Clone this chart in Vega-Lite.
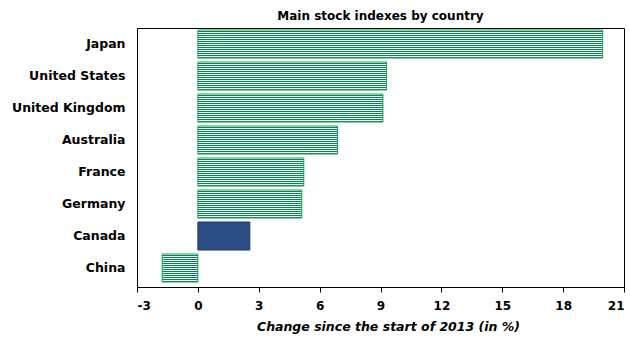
{
  "$schema": "https://vega.github.io/schema/vega-lite/v6.json",
  "width": 487,
  "height": 259,
  "autosize": {"type": "none"},
  "padding": {"left": 137, "top": 28, "right": 6, "bottom": 50},
  "background": "white",
  "config": {
    "font": "DejaVu Sans",
    "view": {"stroke": "black", "strokeWidth": 1}
  },
  "title": {
    "text": "Main stock indexes by country",
    "font": "DejaVu Sans",
    "fontSize": 12,
    "fontWeight": "bold",
    "color": "black",
    "anchor": "middle",
    "offset": 5
  },
  "data": {
    "values": [
      {"country": "Japan", "change": 19.95},
      {"country": "United States", "change": 9.3},
      {"country": "United Kingdom", "change": 9.12},
      {"country": "Australia", "change": 6.88},
      {"country": "France", "change": 5.22},
      {"country": "Germany", "change": 5.12},
      {"country": "Canada", "change": 2.56},
      {"country": "China", "change": -1.76}
    ]
  },
  "encoding": {
    "y": {
      "field": "country",
      "type": "nominal",
      "sort": null,
      "scale": {"paddingInner": 0.125, "paddingOuter": 0.109375, "align": 0.2857142857, "round": false},
      "axis": {
        "title": null,
        "domain": false,
        "ticks": false,
        "labelPadding": 12,
        "labelFontSize": 12.5,
        "labelFontWeight": "bold",
        "labelColor": "black"
      }
    }
  },
  "layer": [
    {
      "mark": {"type": "bar", "strokeWidth": 1, "cornerRadius": 0},
      "encoding": {
        "x": {
          "field": "change",
          "type": "quantitative",
          "scale": {"domain": [-3, 21], "nice": false, "zero": false},
          "axis": {
            "values": [-3, 0, 3, 6, 9, 12, 15, 18, 21],
            "labelExpr": "datum.value + ''",
            "grid": false,
            "domain": true,
            "domainColor": "black",
            "tickColor": "black",
            "tickSize": 5,
            "labelFontSize": 12,
            "labelFontWeight": "bold",
            "labelColor": "black",
            "labelPadding": 8,
            "title": "Change since the start of 2013 (in %)",
            "titleFontSize": 12.5,
            "titleFontWeight": "bold",
            "titleFontStyle": "italic",
            "titleColor": "black",
            "titlePadding": 9,
            "titleX": 251,
            "titleAlign": "center"
          }
        },
        "fill": {
          "condition": {"test": "datum.country === 'Canada'", "value": "#2d4d85"},
          "value": {
            "gradient": "linear",
            "x1": 0, "y1": 0, "x2": 0, "y2": 1,
            "stops": [
              {"offset": 0, "color": "#f2f9f5"},
              {"offset": 0.0357, "color": "#f2f9f5"},
              {"offset": 0.0357, "color": "#008b4c"},
              {"offset": 0.0714, "color": "#008b4c"},
              {"offset": 0.0714, "color": "#f2f9f5"},
              {"offset": 0.1071, "color": "#f2f9f5"},
              {"offset": 0.1071, "color": "#008b4c"},
              {"offset": 0.1429, "color": "#008b4c"},
              {"offset": 0.1429, "color": "#f2f9f5"},
              {"offset": 0.1786, "color": "#f2f9f5"},
              {"offset": 0.1786, "color": "#008b4c"},
              {"offset": 0.2143, "color": "#008b4c"},
              {"offset": 0.2143, "color": "#f2f9f5"},
              {"offset": 0.25, "color": "#f2f9f5"},
              {"offset": 0.25, "color": "#008b4c"},
              {"offset": 0.2857, "color": "#008b4c"},
              {"offset": 0.2857, "color": "#f2f9f5"},
              {"offset": 0.3214, "color": "#f2f9f5"},
              {"offset": 0.3214, "color": "#008b4c"},
              {"offset": 0.3571, "color": "#008b4c"},
              {"offset": 0.3571, "color": "#f2f9f5"},
              {"offset": 0.3929, "color": "#f2f9f5"},
              {"offset": 0.3929, "color": "#008b4c"},
              {"offset": 0.4286, "color": "#008b4c"},
              {"offset": 0.4286, "color": "#f2f9f5"},
              {"offset": 0.4643, "color": "#f2f9f5"},
              {"offset": 0.4643, "color": "#008b4c"},
              {"offset": 0.5, "color": "#008b4c"},
              {"offset": 0.5, "color": "#f2f9f5"},
              {"offset": 0.5357, "color": "#f2f9f5"},
              {"offset": 0.5357, "color": "#008b4c"},
              {"offset": 0.5714, "color": "#008b4c"},
              {"offset": 0.5714, "color": "#f2f9f5"},
              {"offset": 0.6071, "color": "#f2f9f5"},
              {"offset": 0.6071, "color": "#008b4c"},
              {"offset": 0.6429, "color": "#008b4c"},
              {"offset": 0.6429, "color": "#f2f9f5"},
              {"offset": 0.6786, "color": "#f2f9f5"},
              {"offset": 0.6786, "color": "#008b4c"},
              {"offset": 0.7143, "color": "#008b4c"},
              {"offset": 0.7143, "color": "#f2f9f5"},
              {"offset": 0.75, "color": "#f2f9f5"},
              {"offset": 0.75, "color": "#008b4c"},
              {"offset": 0.7857, "color": "#008b4c"},
              {"offset": 0.7857, "color": "#f2f9f5"},
              {"offset": 0.8214, "color": "#f2f9f5"},
              {"offset": 0.8214, "color": "#008b4c"},
              {"offset": 0.8571, "color": "#008b4c"},
              {"offset": 0.8571, "color": "#f2f9f5"},
              {"offset": 0.8929, "color": "#f2f9f5"},
              {"offset": 0.8929, "color": "#008b4c"},
              {"offset": 0.9286, "color": "#008b4c"},
              {"offset": 0.9286, "color": "#f2f9f5"},
              {"offset": 0.9643, "color": "#f2f9f5"},
              {"offset": 0.9643, "color": "#008b4c"},
              {"offset": 1, "color": "#008b4c"}
            ]
          }
        },
        "stroke": {
          "condition": {"test": "datum.country === 'Canada'", "value": "#1e3766"},
          "value": "#1f9a60"
        }
      }
    },
    {
      "mark": {"type": "rule", "color": "#222222", "strokeWidth": 1.5},
      "encoding": {
        "x": {"datum": 0, "type": "quantitative"}
      }
    }
  ]
}
